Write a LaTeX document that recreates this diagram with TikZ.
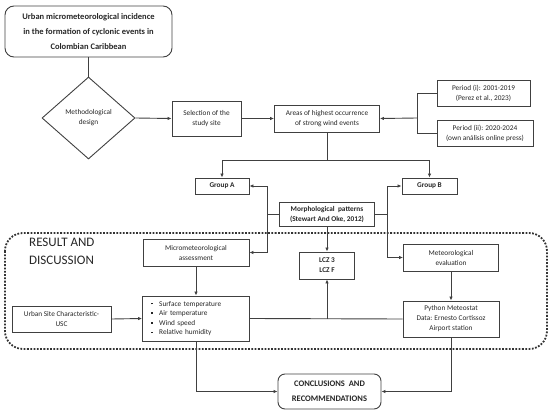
\documentclass[tikz,border=0pt]{standalone}
\usepackage{fontspec}
\setmainfont{Carlito}
\usetikzlibrary{shapes.geometric,arrows.meta}
\definecolor{ln}{HTML}{404040}
\definecolor{tx}{HTML}{262626}
\newcommand{\bul}{\raisebox{1.6pt}{\rule{1.7pt}{1.7pt}}\hspace{6.5pt}}
\begin{document}
\begin{tikzpicture}[x=1pt,y=-1pt,
  box/.style={draw=ln,line width=0.9pt,inner sep=1pt,align=center,text=tx,font=\fontsize{7.3}{10}\selectfont},
  bbox/.style={box,font=\fontsize{7.3}{10}\selectfont\bfseries},
  conn/.style={draw=ln,line width=0.9pt},
  arr/.style={conn,-{Latex[length=4pt,width=3.5pt]}}]
\useasboundingbox (0,0) rectangle (550,415);
% dotted frame
\draw[ln!80!black,line width=1.8pt,dash pattern=on 1.8pt off 1.5pt,rounded corners=18pt] (5,233) rectangle (547,349);
\node[text=tx,font=\fontsize{13}{18}\selectfont,align=left,anchor=north west,inner sep=0pt] (res) at (29,238) {RESULT AND\\DISCUSSION};
% nodes
\node[box,rounded corners=9pt,minimum width=167pt,minimum height=51pt,font=\fontsize{8.5}{15}\selectfont\bfseries] (title) at (88.5,31.5) {Urban micrometeorological incidence\\in the formation of cyclonic events in\\Colombian Caribbean};
\node[box,diamond,minimum width=93pt,minimum height=82pt,inner sep=0pt] (dia) at (88.5,118) {Methodological\\design};
\node[box,minimum width=69pt,minimum height=35pt] (sel) at (206.5,118.5) {Selection of the\\study site};
\node[box,minimum width=105pt,minimum height=27pt] (areas) at (327,118.5) {Areas of highest occurrence\\of strong wind events};
\node[box,minimum width=93pt,minimum height=26pt] (p1) at (483.5,93) {Period (i): 2001-2019\\(Perez et al., 2023)};
\node[box,minimum width=96pt,minimum height=26pt] (p2) at (485,133) {Period (ii): 2020-2024\\(own análisis online press)};
\node[bbox,minimum width=54pt,minimum height=16pt] (ga) at (222,186) {Group A};
\node[bbox,minimum width=55pt,minimum height=16pt] (gb) at (429.5,186) {Group B};
\node[bbox,minimum width=95pt,minimum height=24pt] (morph) at (327,214) {Morphological\ \ patterns\\(Stewart And Oke, 2012)};
\node[box,minimum width=106pt,minimum height=27pt] (micro) at (196,252.5) {Micrometeorological\\assessment};
\node[bbox,minimum width=55pt,minimum height=27pt] (lcz) at (327,265.5) {LCZ 3\\LCZ F};
\node[box,minimum width=95pt,minimum height=27pt] (meteo) at (451,257.5) {Meteorological\\evaluation};
\node[box,minimum width=99pt,minimum height=26pt] (urban) at (61.5,319) {Urban Site Characteristic-\\USC};
\node[box,minimum width=107pt,minimum height=45pt,text width=90pt,inner xsep=8.5pt,align=left,font=\fontsize{7.3}{9.6}\selectfont] (bull) at (196,318.5) {\bul Surface temperature\\\bul Air temperature\\\bul Wind speed\\\bul Relative humidity};
\node[box,minimum width=96pt,minimum height=36pt] (py) at (451,319) {Python Meteostat\\Data: Ernesto Cortissoz\\Airport station};
\node[box,rounded corners=7pt,minimum width=103pt,minimum height=35pt,font=\fontsize{8.5}{15}\selectfont\bfseries] (concl) at (329.5,391.5) {CONCLUSIONS\ \ AND\\RECOMMENDATIONS};
% coordinates
\coordinate (brR) at (417,118);
\coordinate (split) at (327,160);
\coordinate (mL) at (267,214);
\coordinate (mR) at (387,214);
% connectors
\draw[conn] (title.south) -- (dia.north);
\draw[arr] (dia.east) -- (sel.west);
\draw[arr] (sel.east) -- (areas.west);
\draw[conn] (p1.west) -| (brR);
\draw[conn] (p2.west) -| (brR);
\draw[arr] (brR) -- (areas.east);
\draw[conn] (areas.south) -- (split);
\draw[arr] (split) -| (ga.north);
\draw[arr] (split) -| (gb.north);
\draw[conn] (morph.west) -- (mL);
\draw[arr] (mL) |- (ga.east);
\draw[arr] (mL) |- (micro.east);
\draw[conn] (morph.east) -- (mR);
\draw[arr] (mR) |- (gb.west);
\draw[arr] (mR) |- (meteo.west);
\draw[arr] (morph.south) -- (lcz.north);
\draw[arr] (micro.south) -- (bull.north);
\draw[arr] (urban.east) -- (bull.west);
\draw[conn] (bull.east) -- (py.west);
\coordinate (jn) at (lcz.south |- bull.east);
\draw[arr] (jn) -- (lcz.south);
\draw[arr] (meteo.south) -- (py.north);
\draw[arr] (bull.south) |- (concl.west);
\draw[arr] (py.south) |- (concl.east);
\end{tikzpicture}
\end{document}
